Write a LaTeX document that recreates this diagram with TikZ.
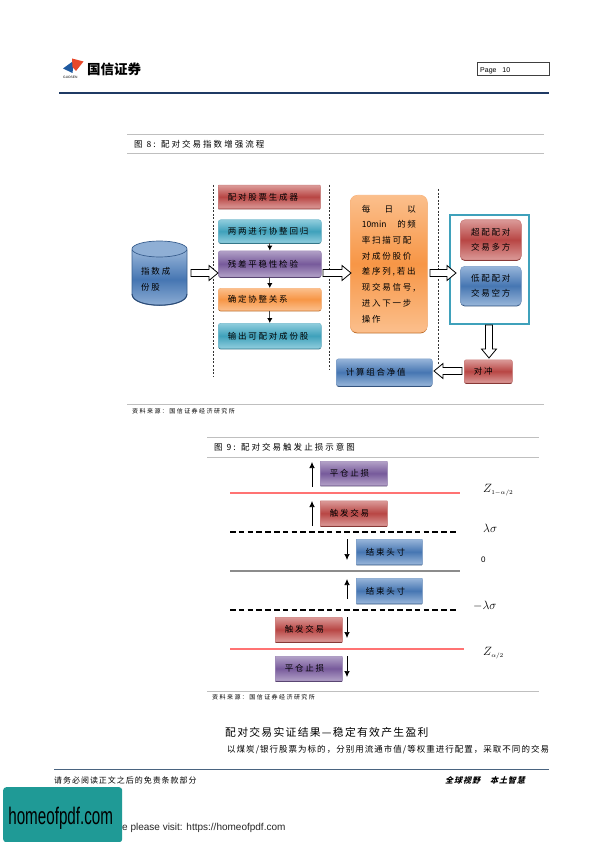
\documentclass[tikz,border=0pt]{standalone}
\usepackage{fontspec}
\usepackage{graphicx}
\usetikzlibrary{calc,shadows,arrows.meta}
\setmainfont{Liberation Sans}
\newfontfamily\cjk[LetterSpace=21]{Noto Sans CJK SC}
\newfontfamily\cjkc[LetterSpace=24]{Noto Sans CJK SC}
\newfontfamily\cjkh[LetterSpace=12]{Noto Sans CJK SC}
\newfontfamily\cjkt{Noto Sans CJK SC}
\newfontfamily\cjks[FakeSlant=0.25,LetterSpace=12]{Noto Sans CJK SC}
\newcommand{\blockarrow}[2]{%
  \coordinate (hh) at ($(#2)!9pt!(#1)$);
  \draw[blockarrowline] ($(#1)!3.5pt!90:(#2)$) -- ($(hh)!3.5pt!90:(#2)$) -- ($(hh)!7.5pt!90:(#2)$) -- (#2)
    -- ($(hh)!7.5pt!-90:(#2)$) -- ($(hh)!3.5pt!-90:(#2)$) -- ($(#1)!3.5pt!-90:(#2)$) -- cycle;}
\newcommand{\spreadline}[1]{\leavevmode\hbox to 54pt{#1}}
\definecolor{cred}{HTML}{B84644}\definecolor{lred}{HTML}{DB9A98}\definecolor{dred}{HTML}{7E2F2D}
\definecolor{cteal}{HTML}{3FA1BB}\definecolor{lteal}{HTML}{8FCDDD}\definecolor{dteal}{HTML}{2B6E80}
\definecolor{cpur}{HTML}{775A9B}\definecolor{lpur}{HTML}{B2A1C7}\definecolor{dpur}{HTML}{4F3C68}
\definecolor{cora}{HTML}{F79646}\definecolor{lora}{HTML}{FBBF8C}\definecolor{dora}{HTML}{B5621C}
\definecolor{cblu}{HTML}{4676B2}\definecolor{lblu}{HTML}{97B5D9}\definecolor{dblu}{HTML}{2A4A75}
\definecolor{rulegray}{HTML}{BFBFBF}
\definecolor{logoblue}{HTML}{1F5AA0}\definecolor{logored}{HTML}{E8482A}
\definecolor{navy}{HTML}{1F3A64}\definecolor{footline}{HTML}{4A6480}
\definecolor{badgeteal}{HTML}{1F9A96}
\tikzset{
  gbox/.style={anchor=north west,inner sep=0pt,align=center,text=black,font=\fontsize{8.5}{15.7}\cjk},
  grad/.style n args={3}{gbox,draw=#1!70!white,line width=.6pt,rounded corners=2.5pt,
    top color=#3,bottom color=#3,middle color=#1,
    drop shadow={shadow xshift=0pt,shadow yshift=-1.1pt,opacity=1,fill=#2}},
  redbox/.style={grad={cred}{dred}{lred}},
  tealbox/.style={grad={cteal}{dteal}{lteal}},
  purbox/.style={grad={cpur}{dpur}{lpur}},
  orabox/.style={grad={cora}{dora}{lora}},
  blubox/.style={grad={cblu}{dblu}{lblu}},
  leftin/.style={text width=#1,align=left,execute at begin node={\hspace*{9.5pt}}},
  blockarrowline/.style={draw=black,fill=white,line width=.8pt,line join=miter},
  smallarrow/.style={draw=black!70,line width=1pt,-{Latex[length=5pt,width=5.5pt,black]}},
  thinarrow/.style={draw=black,line width=.7pt,-{Latex[length=6pt,width=5.5pt]}},
  vdash/.style={draw=black!80,line width=.7pt,dash pattern=on 2pt off 1.6pt},
  captionrule/.style={draw=rulegray,line width=.7pt},
  hdash/.style={draw=black,line width=1.2pt,dash pattern=on 5.5pt off 3.3pt},
  redline/.style={draw=red!55!white,line width=1.2pt},
  label/.style={anchor=west,inner sep=0pt},
  mathlabel/.style={label,font=\fontsize{12.5}{12.5}\selectfont},
}
\begin{document}
\begin{tikzpicture}[x=1pt,y=-1pt]
\useasboundingbox (0,0) rectangle (596,842);
\fill[white] (0,0) rectangle (596,842);
% header
\fill[logoblue] (63,68.5) -- (74,60.5) -- (72.5,73) -- cycle;
\fill[logored] (72,58.5) -- (83.5,61.5) -- (76,71) -- (72.5,67) -- cycle;
\node[label,font=\fontsize{3.3}{3.3}\selectfont] (guosen) at (63,77) {GUOSEN};
\node[label,font=\fontsize{13.5}{13.5}\cjkt\bfseries] (brand) at (87,69) {国信证券};
\node[anchor=north west,draw=black!75,line width=.7pt,minimum width=72pt,minimum height=12.5pt,inner sep=0pt] (pagebox) at (477,62.5) {};
\node[label,font=\fontsize{7}{7}\selectfont] (pagetxt) at (480,70.5) {Page\ \ \ 10};
\draw[draw=navy,line width=1.3pt] (59,93) -- (549,93);
% figure 8 caption
\draw[captionrule] (127,134.5) -- (544,134.5);
\draw[captionrule] (127,153) -- (544,153);
\node[label,font=\fontsize{8.5}{8.5}\cjkc] (cap8) at (134,144.5) {图 8: 配对交易指数增强流程};
% dashed separators
\draw[vdash] (213,185) -- (213,377);
\draw[vdash] (329,185) -- (329,370);
\draw[vdash] (438,189) -- (438,365);
% cylinder
\shade[top color=lblu,bottom color=lblu,middle color=cblu,draw=cblu!80!black,line width=.7pt]
  (132,250) -- (132,294) .. controls (132,309) and (187,309) .. (187,294) -- (187,250) -- cycle;
\draw[draw=dblu,line width=1pt] (132,294) .. controls (132,309) and (187,309) .. (187,294);
\fill[fill=lblu!90!cblu,draw=cblu!80!black,line width=.7pt] (159.5,249) ellipse [x radius=27.5pt,y radius=8pt];
\node[gbox,anchor=north west,align=left] (cyl) at (141,267) {指数成\\份股};
% column 1
\node[redbox,leftin=102pt,minimum width=102pt,minimum height=23pt,rounded corners=.5pt] (gen) at (218,185) {配对股票生成器};
\node[tealbox,leftin=103pt,minimum width=103pt,minimum height=23pt] (reg) at (218,219.5) {两两进行协整回归};
\node[purbox,leftin=103pt,minimum width=103pt,minimum height=26pt] (test) at (218,250.5) {残差平稳性检验};
\node[orabox,leftin=103pt,minimum width=103pt,minimum height=22pt] (rel) at (218,288) {确定协整关系};
\node[tealbox,leftin=103pt,minimum width=103pt,minimum height=25pt] (out) at (218,323) {输出可配对成份股};
\draw[smallarrow] (reg) -- (test);
\draw[smallarrow] (test) -- (rel);
\draw[smallarrow] (rel) -- (out);
% scan box
\node[orabox,minimum width=77pt,minimum height=137pt,rounded corners=7pt,text width=54pt,align=left] (scan) at (350,195)
 {\spreadline{每\hfil 日\hfil 以}\\\spreadline{{\cjkt 10min}\hfil 的\,频}\\率扫描可配\\对成份股价\\差序列,若出\\现交易信号,\\进入下一步\\操作};
% frame
\node[anchor=north west,draw=cteal,line width=2.4pt,minimum width=79pt,minimum height=109pt,inner sep=0pt,fill=white] (frame) at (449,214) {};
\node[redbox,minimum width=61pt,minimum height=40pt,rounded corners=4.5pt] (long) at (460,219.5) {超配配对\\交易多方};
\node[blubox,minimum width=61pt,minimum height=39pt,rounded corners=4.5pt] (short) at (460,266) {低配配对\\交易空方};
% bottom row
\node[redbox,leftin=48pt,minimum width=48pt,minimum height=23pt,rounded corners=2pt] (hedge) at (464,359.5) {对冲};
\node[blubox,leftin=96pt,minimum width=96pt,minimum height=27pt] (nav) at (336,358.5) {计算组合净值};
% block arrows
\coordinate (a1s) at (191,273);\coordinate (a1e) at (218,273);
\coordinate (a2s) at (323,273);\coordinate (a2e) at (351,273);
\coordinate (a3s) at (430,273);\coordinate (a3e) at (456,273);
\coordinate (a4s) at (489,325);\coordinate (a4e) at (489,358);
\coordinate (a5s) at (462,371);\coordinate (a5e) at (434,371);
\blockarrow{a1s}{a1e}
\blockarrow{a2s}{a2e}
\blockarrow{a3s}{a3e}
\blockarrow{a4s}{a4e}
\blockarrow{a5s}{a5e}
% sources
\draw[captionrule] (127,404) -- (544,404);
\node[label,font=\fontsize{6}{6}\cjkc] (src8) at (132,411) {资料来源：国信证券经济研究所};
% figure 9
\draw[captionrule] (207,437) -- (539,437);
\draw[captionrule] (207,457.5) -- (539,457.5);
\node[label,font=\fontsize{8.5}{8.5}\cjkc] (cap9) at (214,447.5) {图 9: 配对交易触发止损示意图};
\draw[redline] (230,493) -- (460,493);
\draw[hdash] (230,532) -- (457,532);
\draw[draw=black!45,line width=1.2pt] (230,571) -- (460,571);
\draw[hdash] (230,610) -- (457,610);
\draw[redline] (230,649) -- (464,649);
\node[purbox,leftin=67pt,minimum width=67pt,minimum height=24pt,rounded corners=.5pt] (stop1) at (320,461) {平仓止损};
\node[redbox,leftin=67pt,minimum width=67pt,minimum height=25pt,rounded corners=.5pt] (trig1) at (320,500.5) {触发交易};
\node[blubox,leftin=66pt,minimum width=66pt,minimum height=25pt,rounded corners=.5pt] (end1) at (356,539) {结束头寸};
\node[blubox,leftin=66pt,minimum width=66pt,minimum height=25pt,rounded corners=.5pt] (end2) at (356,578) {结束头寸};
\node[redbox,leftin=67pt,minimum width=67pt,minimum height=24.5pt,rounded corners=.5pt] (trig2) at (275,617) {触发交易};
\node[purbox,leftin=67pt,minimum width=67pt,minimum height=24.5pt,rounded corners=.5pt] (stop2) at (275,656) {平仓止损};
\coordinate (t1a) at (312,487);\coordinate (t1b) at (312,462);
\coordinate (t2a) at (312,526);\coordinate (t2b) at (312,501);
\coordinate (t3a) at (347,539);\coordinate (t3b) at (347,560);
\coordinate (t4a) at (347,599);\coordinate (t4b) at (347,579);
\coordinate (t5a) at (347,617);\coordinate (t5b) at (347,638);
\coordinate (t6a) at (347,656);\coordinate (t6b) at (347,677);
\draw[thinarrow] (t1a) -- (t1b);
\draw[thinarrow] (t2a) -- (t2b);
\draw[thinarrow] (t3a) -- (t3b);
\draw[thinarrow] (t4a) -- (t4b);
\draw[thinarrow] (t5a) -- (t5b);
\draw[thinarrow] (t6a) -- (t6b);
\node[mathlabel] (zu) at (483,490) {$Z_{\scriptscriptstyle 1-\alpha/2}$};
\node[mathlabel] (ls) at (483,528) {$\lambda\sigma$};
\node[label,font=\fontsize{8}{8}\selectfont] (zero) at (481,560) {0};
\node[mathlabel] (mls) at (473,606) {$-\lambda\sigma$};
\node[mathlabel] (zl) at (483,653) {$Z_{\scriptscriptstyle\alpha/2}$};
\draw[captionrule] (207,691) -- (539,691);
\node[label,font=\fontsize{6}{6}\cjkc] (src9) at (212,697) {资料来源：国信证券经济研究所};
% body text
\node[label,font=\fontsize{10.8}{10.8}\cjkh] (head) at (225,732) {配对交易实证结果—稳定有效产生盈利};
\node[label,font=\fontsize{8.5}{8.5}\cjkh] (body) at (227,750) {以煤炭/银行股票为标的，分别用流通市值/等权重进行配置，采取不同的交易};
% footer
\draw[draw=footline,line width=1pt] (54,769.5) -- (549,769.5);
\node[label,font=\fontsize{8}{8}\cjkh] (foot) at (54,780) {请务必阅读正文之后的免责条款部分};
\node[label,font=\fontsize{8}{8}\cjks\bfseries] (motto) at (445,780) {全球视野\hspace{10pt}本土智慧};
% visit line and badge
\node[label,font=\fontsize{10}{10}\selectfont,text=black!85] (visit) at (122,828) {e please visit: https://homeofpdf.com};
\node[anchor=north west,inner sep=0pt,fill=badgeteal,rounded corners=3pt,minimum width=119pt,minimum height=55pt] (badge) at (3,787) {};
\node[inner sep=0pt,font=\fontsize{20}{20}\selectfont] (badgetxt) at ([xshift=-2pt,yshift=-4pt]badge.center) {\scalebox{.76}[1.2]{homeofpdf.com}};
\end{tikzpicture}
\end{document}
